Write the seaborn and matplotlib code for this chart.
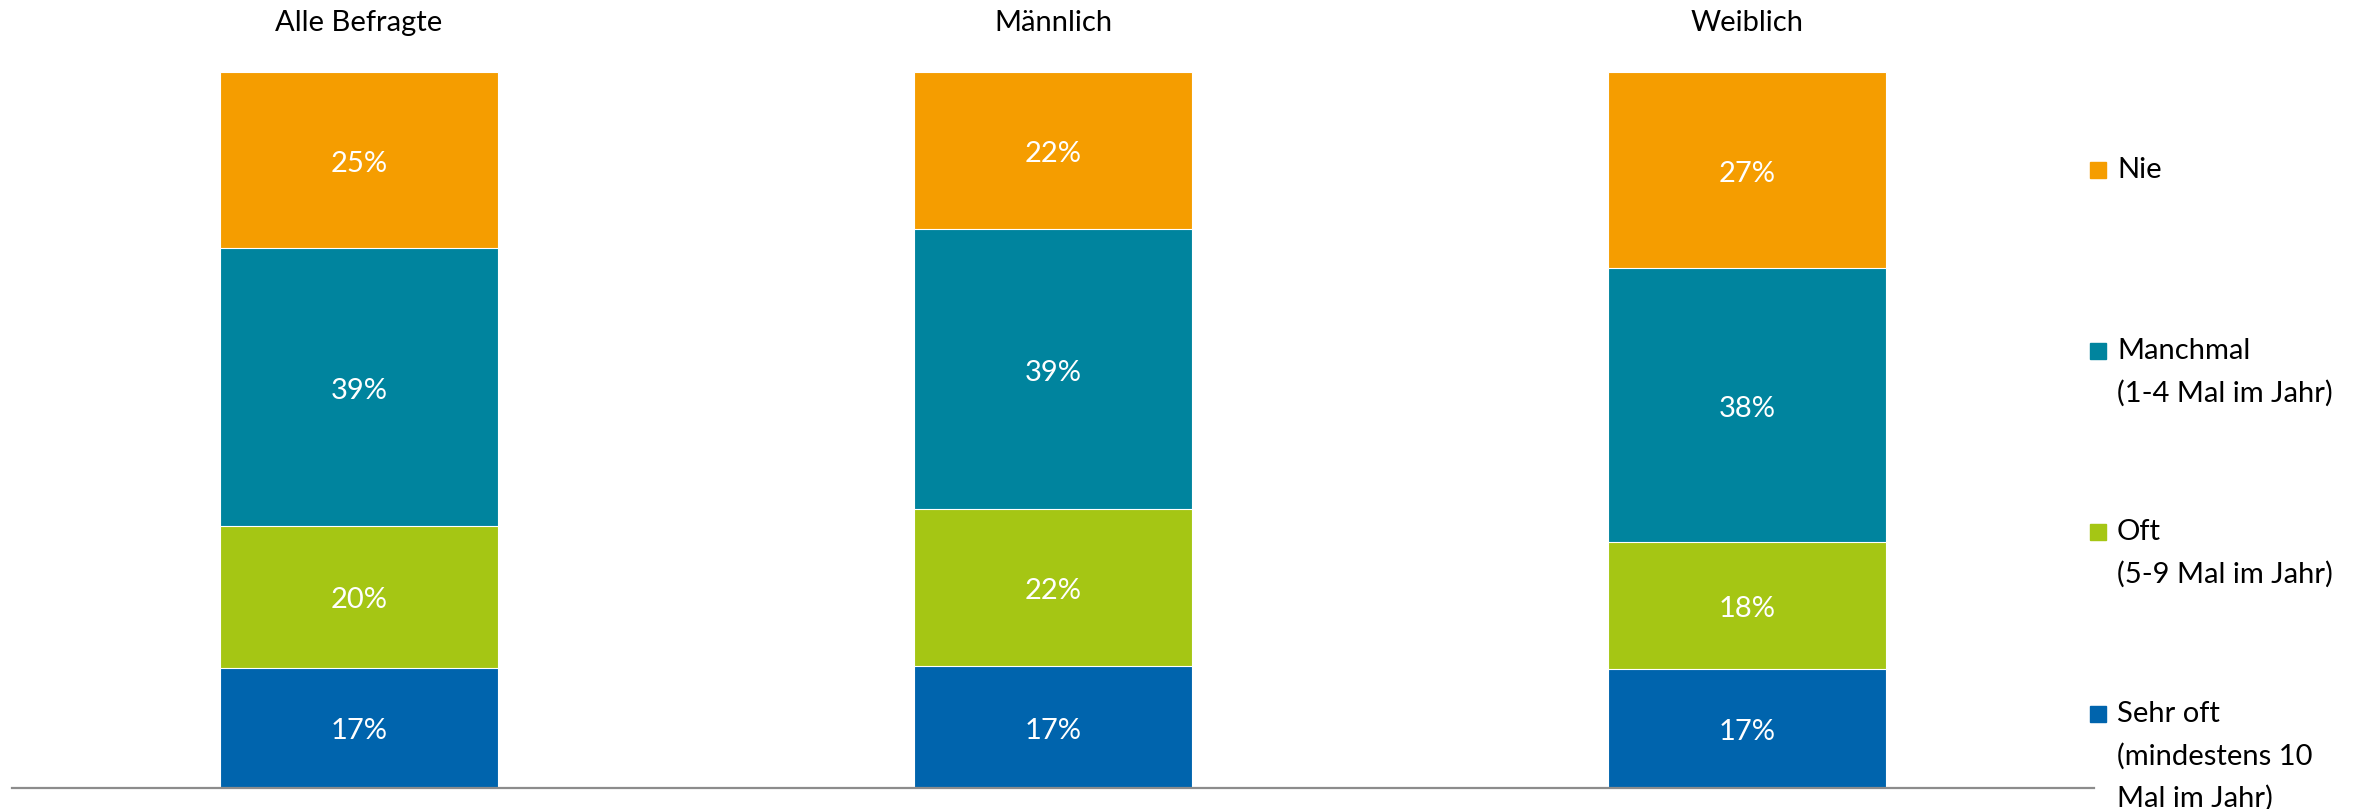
import numpy as np
import pandas as pd
import matplotlib
matplotlib.use('Agg')
import matplotlib.pyplot as plt
from matplotlib.patches import Rectangle
import seaborn as sns

# Data (percent)
groups = ['Alle Befragte', 'Männlich', 'Weiblich']
levels = ['Sehr oft\n(mindestens 10\nMal im Jahr)', 'Oft\n(5-9 Mal im Jahr)',
          'Manchmal\n(1-4 Mal im Jahr)', 'Nie']
sehr_oft = [16.8, 17.0, 16.6]
oft = [19.8, 21.9, 17.7]
manchmal = [38.8, 39.2, 38.3]
nie = [24.6, 21.9, 27.4]
colors = ['#0064AD', '#A5C614', '#00849E', '#F59D00']

df = pd.DataFrame({'group': groups, 'sehr_oft': sehr_oft, 'oft': oft,
                   'manchmal': manchmal, 'nie': nie})
cols = ['sehr_oft', 'oft', 'manchmal', 'nie']
cum = df[cols].cumsum(axis=1)

sns.set_style('white')
plt.rcParams['font.family'] = ['Lato', 'DejaVu Sans']

fig = plt.figure(figsize=(23.62, 8.09), dpi=100)
ax = fig.add_axes([12 / 2362, 21 / 809, 2082 / 2362, 716 / 809])

# Stacked bars: draw cumulative totals from the top down
for k in range(len(cols) - 1, -1, -1):
    sns.barplot(x=df['group'], y=cum[cols[k]], color=colors[k], saturation=1,
                width=0.4, edgecolor='white', linewidth=0.8, ax=ax)

# Value labels in the middle of each segment
for i in range(len(groups)):
    bottom = 0
    for k, c in enumerate(cols):
        v = df[c][i]
        ax.text(i, bottom + v / 2 - 0.5, f'{round(v):.0f}%', ha='center', va='center',
                color='white', fontsize=21)
        bottom += v

# Group titles above the bars
for i, g in enumerate(groups):
    ax.text(i, 106.8, g, ha='center', va='center', fontsize=21, color='black',
            clip_on=False)

ax.set_xlim(-0.5, 2.5)
ax.set_ylim(0, 100)
ax.set_xlabel('')
ax.set_ylabel('')
ax.set_xticks([])
ax.set_yticks([])
for s in ['top', 'right', 'left']:
    ax.spines[s].set_visible(False)
ax.spines['bottom'].set_color('#8C8C8C')
ax.spines['bottom'].set_linewidth(1.6)

# Legend drawn by hand so the marker sits next to the first line
leg_y = [714, 532, 351, 170]
for k, lab in enumerate(levels):
    y0 = leg_y[k]
    fig.add_artist(Rectangle((2090 / 2362, (809 - y0 - 8) / 809), 16 / 2362, 16 / 809,
                             transform=fig.transFigure, color=colors[k]))
    for j, line in enumerate(lab.split('\n')):
        fig.text(2117 / 2362, (809 - y0 - j * 42) / 809, line, ha='left', va='center',
                 fontsize=21, color='black')

fig.savefig('out.png', dpi=100)
